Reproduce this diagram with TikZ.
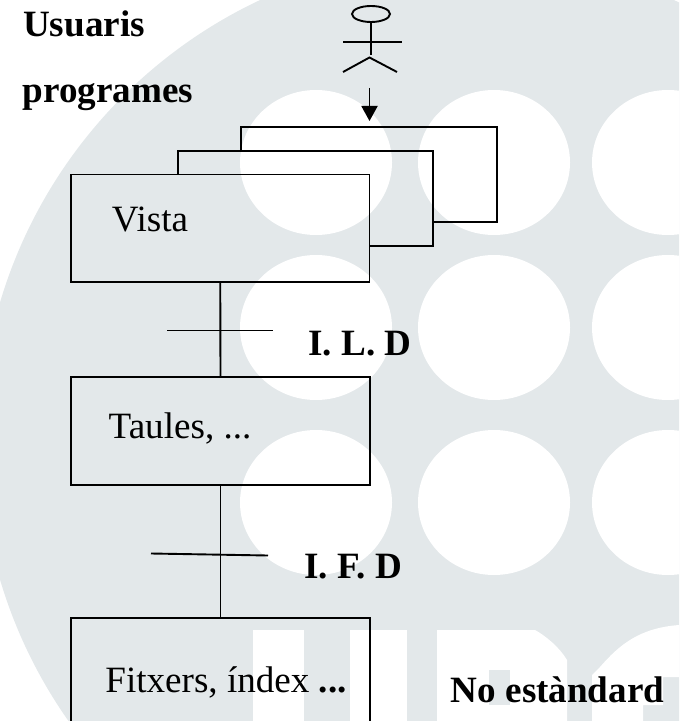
\documentclass[tikz,border=0pt]{standalone}
\usepackage{fontspec}
\setmainfont{Liberation Serif}
\usetikzlibrary{arrows.meta,shapes.geometric}
\definecolor{watermark}{RGB}{227,232,234}
\begin{document}
\begin{tikzpicture}[
    every node/.style={align=center},
    plain line/.style={draw, line width=1.35pt},
    box/.style={draw, line width=1.35pt, inner sep=0pt, outer sep=0pt},
    caption/.style={anchor=base, inner sep=0pt, font=\fontsize{26.4}{30}\selectfont},
    bold caption/.style={caption, font=\fontsize{26.4}{30}\selectfont\bfseries},
    ]
\useasboundingbox (0,0) rectangle (16.975,-18.025);
\begin{scope}
\clip (0,0) rectangle (16.975,-18.025);
\fill[watermark] (11.675,-11.025) circle (12.175);
\foreach \cx in {7.9,12.35,16.7}
    \foreach \cy in {-4.0625,-8.1875,-12.5625}
        \fill[white] (\cx,\cy) ellipse (1.9 and 1.8125);
\fill[white] (6.325,-15.75) rectangle (7.6,-18.025);
\fill[white] (8.75,-15.75) rectangle (10.175,-18.025);
\fill[white] (10.925,-15.75) -- (13.375,-15.75) .. controls (13.65,-15.9) and (14.0,-16.2) .. (14.175,-16.5) -- (14.175,-18.025) -- (10.925,-18.025) -- cycle;
\fill[white] (14.8,-18.025) -- (14.8,-16.875) -- (15,-16.675) .. controls (15.5,-16.1) and (16.0,-15.7) .. (16.975,-15.625) -- (16.975,-16.925) -- (16.575,-16.925) -- (16.575,-17.625) -- (16.075,-17.625) -- (16.075,-18.025) -- cycle;
\fill[watermark] (12.225,-16.75) rectangle (12.75,-17.625);
\end{scope}
\node[bold caption] (usuaris) at (2.1,-0.925) {Usuaris};
\node[bold caption] (programes) at (2.7,-2.575) {programes};
\node[draw, ellipse, line width=1.35pt, inner sep=0pt, minimum width=0.95cm, minimum height=0.4cm] (head) at (9.275,-0.35) {};
\coordinate (hip) at (9.275,-1.375);
\coordinate (armL) at (8.575,-1.05);
\coordinate (armR) at (10.05,-1.05);
\coordinate (legL) at (8.575,-1.8);
\coordinate (crotch) at (9.2375,-1.4375);
\coordinate (legR) at (9.925,-1.8);
\draw[plain line] (head.south) -- (hip);
\draw[plain line] (armL) -- (armR);
\draw[plain line] (legL) -- (crotch) -- (legR);
\coordinate (arrowStart) at (9.2375,-2.2);
\coordinate (arrowEnd) at (9.2375,-3.025);
\draw[plain line, -{Triangle[width=0.4cm,length=0.375cm]}] (arrowStart) -- (arrowEnd);
\node[box, minimum width=7.4625cm, minimum height=2.6875cm] (vista) at (5.506,-5.706) {};
\node[box, minimum width=7.475cm, minimum height=2.7cm] (taules) at (5.5125,-10.775) {};
\node[box, minimum width=7.475cm, minimum height=2.925cm] (fitxers) at (5.5125,-16.9125) {};
\draw[plain line] (6.025,-3.775) -- (6.025,-3.175) -- (12.425,-3.175) -- (12.425,-5.55) -- (10.825,-5.55);
\draw[plain line] (4.45,-4.3625) -- (4.45,-3.775) -- (10.825,-3.775) -- (10.825,-6.15) -- (9.2375,-6.15);
\draw[plain line] (vista.south) -- (taules.north);
\draw[plain line] (taules.south) -- (fitxers.north);
\coordinate (ildL) at (4.175,-8.2625);
\coordinate (ildR) at (6.825,-8.2625);
\coordinate (ifdL) at (3.775,-13.8375);
\coordinate (ifdR) at (6.7,-13.8875);
\draw[plain line] (ildL) -- (ildR);
\draw[plain line] (ifdL) -- (ifdR);
\node[caption] (vistaLabel) at (3.75,-5.79) {Vista};
\node[caption] (taulesLabel) at (4.5,-10.95) {Taules, ...};
\node[caption] (fitxersLabel) at (5.65,-17.32) {Fitxers, índex \textbf{...}};
\node[bold caption] (ild) at (9.0,-8.875) {I. L. D};
\node[bold caption] (ifd) at (8.825,-14.45) {I. F. D};
\node[bold caption] (noEstandard) at (13.94,-17.55) {No estàndard};
\end{tikzpicture}
\end{document}
